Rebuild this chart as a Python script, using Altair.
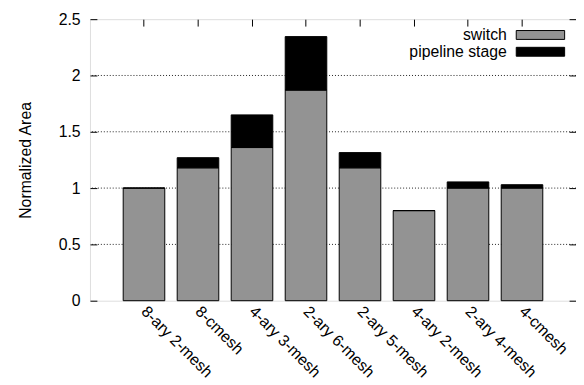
import altair as alt
import pandas as pd

categories = ["8-ary 2-mesh", "8-cmesh", "4-ary 3-mesh", "2-ary 6-mesh",
              "2-ary 5-mesh", "4-ary 2-mesh", "2-ary 4-mesh", "4-cmesh"]
switch = [1.0, 1.18, 1.36, 1.87, 1.18, 0.80, 1.0, 1.0]
pipeline = [0.0, 0.09, 0.29, 0.475, 0.135, 0.0, 0.055, 0.03]
parts = ["switch", "pipeline stage"]
grid_values = [0.5, 1.0, 1.5, 2.0]
y_ticks = [0, 0.5, 1, 1.5, 2, 2.5]

rows = []
for i, c in enumerate(categories):
    rows.append({"network": c, "part": parts[0], "ord": 0, "value": switch[i]})
    rows.append({"network": c, "part": parts[1], "ord": 1, "value": pipeline[i]})
df = pd.DataFrame(rows)

W, H = 492, 285
HATCH = "#939393"
FONT = "Liberation Sans"
FS = 16

xscale = alt.Scale(domain=categories, paddingInner=0.23, paddingOuter=0.615)
yscale = alt.Scale(domain=[0, 2.5], nice=False, zero=True)

grid = alt.Chart(pd.DataFrame({"g": grid_values})).mark_rule(
    color="#222222", strokeDash=[1, 2], strokeWidth=1
).encode(y=alt.Y("g:Q", scale=yscale, axis=None))

bars = alt.Chart(df).mark_bar(stroke="black", strokeWidth=1).encode(
    x=alt.X("network:N", scale=xscale, sort=categories,
            axis=alt.Axis(orient="bottom", title=None, labelAngle=45,
                          labelAlign="left", labelBaseline="middle",
                          labelPadding=8, ticks=False, domain=False,
                          labelFontSize=FS, labelColor="black", labelFont=FONT)),
    y=alt.Y("value:Q", stack="zero", scale=yscale,
            axis=alt.Axis(orient="left", title="Normalized Area", values=y_ticks,
                          format="~g", offset=-7, tickSize=7, domain=False,
                          grid=False, labelPadding=10, tickColor="black",
                          labelFontSize=FS, labelColor="black", labelFont=FONT,
                          titleFontSize=FS, titleFontWeight="normal",
                          titleColor="black", titleFont=FONT,
                          titleX=-72, titleY=H / 2, titleAlign="center",
                          titleBaseline="middle")),
    color=alt.Color("part:N", scale=alt.Scale(domain=parts, range=[HATCH, "black"]),
                    legend=alt.Legend(title=None, orient="none", legendX=448,
                                      legendY=8, padding=0,
                                      symbolType="M-4.9,-0.9H4.9V0.9H-4.9Z",
                                      symbolSize=100, symbolStrokeColor="black",
                                      symbolStrokeWidth=1, symbolOpacity=1,
                                      labelOffset={"expr": "-42"}, labelAlign="right",
                                      labelFontSize=FS, labelColor="black",
                                      labelFont=FONT, rowPadding=1)),
    order=alt.Order("ord:Q", sort="ascending"),
)

mirror = alt.Chart(df).mark_bar(opacity=0).encode(
    x=alt.X("network:N", scale=xscale, sort=categories,
            axis=alt.Axis(orient="top", title=None, labels=False, offset=-7,
                          tickSize=7, domain=False, grid=False, tickColor="black")),
    y=alt.Y("value:Q", scale=yscale,
            axis=alt.Axis(orient="right", title=None, labels=False, values=y_ticks,
                          offset=-7, tickSize=7, domain=False, grid=False,
                          tickColor="black")),
)

chart = alt.layer(grid, bars, mirror).resolve_axis(
    x="independent", y="independent"
).properties(
    width=W, height=H,
    autosize=alt.AutoSizeParams(type="none"),
    padding={"left": 83, "top": 9, "right": 0, "bottom": 80},
).configure_view(stroke="black", strokeWidth=1).configure(font=FONT)

chart.save("out.html", embed_options={"renderer": "svg", "actions": False})
